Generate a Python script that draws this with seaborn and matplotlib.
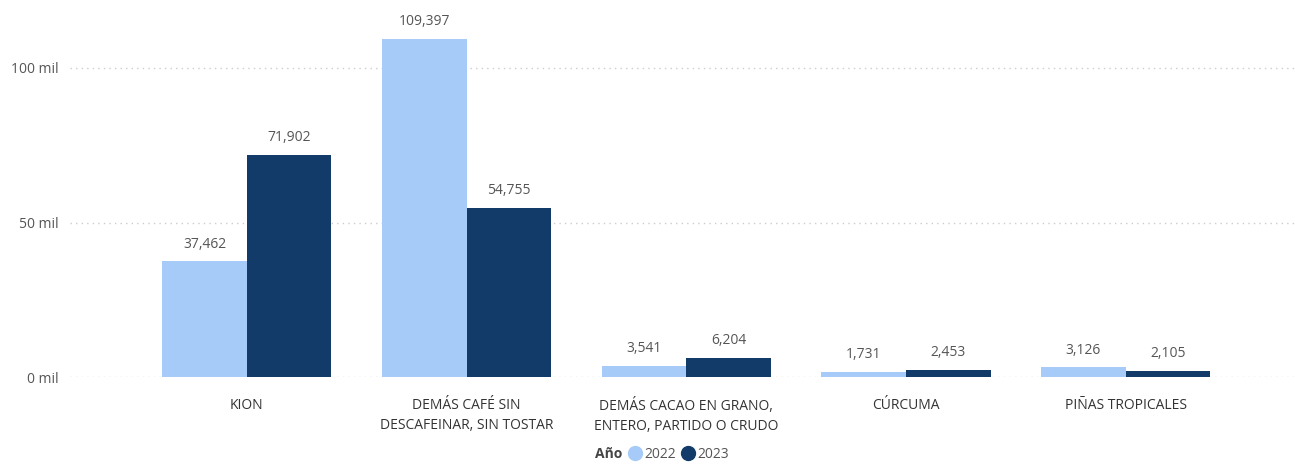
import matplotlib
matplotlib.use("Agg")
import matplotlib.pyplot as plt
from matplotlib.lines import Line2D
import seaborn as sns
import pandas as pd

categories = ["KION", "DEMÁS CAFÉ SIN\nDESCAFEINAR, SIN TOSTAR",
              "DEMÁS CACAO EN GRANO,\nENTERO, PARTIDO O CRUDO",
              "CÚRCUMA", "PIÑAS TROPICALES"]
years = ["2022", "2023"]
values_2022 = [37462, 109397, 3541, 1731, 3126]
values_2023 = [71902, 54755, 6204, 2453, 2105]
yticks = [0, 50000, 100000]
ytick_labels = ["0 mil", "50 mil", "100 mil"]

df = pd.DataFrame({
    "cat": categories * 2,
    "Año": [years[0]] * 5 + [years[1]] * 5,
    "val": values_2022 + values_2023,
})

sns.set_theme(style="white")
plt.rcParams['font.family'] = ['Open Sans', 'DejaVu Sans']
colors = {"2022": "#A6CBF8", "2023": "#123B69"}
txt = "#555555"

fig = plt.figure(figsize=(12.95, 4.65), dpi=100)
ax = fig.add_axes([0.054, 0.189, 0.946, 0.798])
sns.barplot(data=df, x="cat", y="val", hue="Año", palette=colors,
            width=0.77, saturation=1, ax=ax, legend=False,
            linewidth=0, edgecolor="none")

for c in ax.containers:
    ax.bar_label(c, labels=[f"{v:,.0f}" for v in c.datavalues],
                 padding=7, fontsize=10, color=txt)

ax.set_ylim(0, 120000)
ax.set_xlim(-0.805, 4.77)
ax.set_yticks(yticks)
ax.set_yticklabels(ytick_labels, color=txt, fontsize=10)
ax.tick_params(axis="y", length=0, pad=8)
ax.tick_params(axis="x", length=0, pad=15, labelsize=10, labelcolor="#333333")
for lab in ax.get_xticklabels():
    lab.set_linespacing(1.5)
ax.set_xlabel("")
ax.set_ylabel("")
for s in ax.spines.values():
    s.set_visible(False)
ax.yaxis.grid(True, linestyle=(0, (1, 3)), color="#CCCCCC", linewidth=1)
ax.set_axisbelow(True)

handles = [Line2D([], [], linestyle="none")] + [
    Line2D([], [], marker="o", linestyle="none", markersize=10,
           markerfacecolor=colors[y], markeredgecolor=colors[y]) for y in years]
labels = ["Año"] + years
leg = fig.legend(handles, labels, loc="lower center", bbox_to_anchor=(0.505, -0.02),
                 ncol=3, frameon=False, fontsize=10, handlelength=1.0,
                 handletextpad=0.15, columnspacing=0.4)
for t in leg.get_texts():
    t.set_color(txt)
leg.get_texts()[0].set_fontweight("bold")
leg.get_texts()[0].set_color("#444444")

fig.savefig("out.png", dpi=100)
